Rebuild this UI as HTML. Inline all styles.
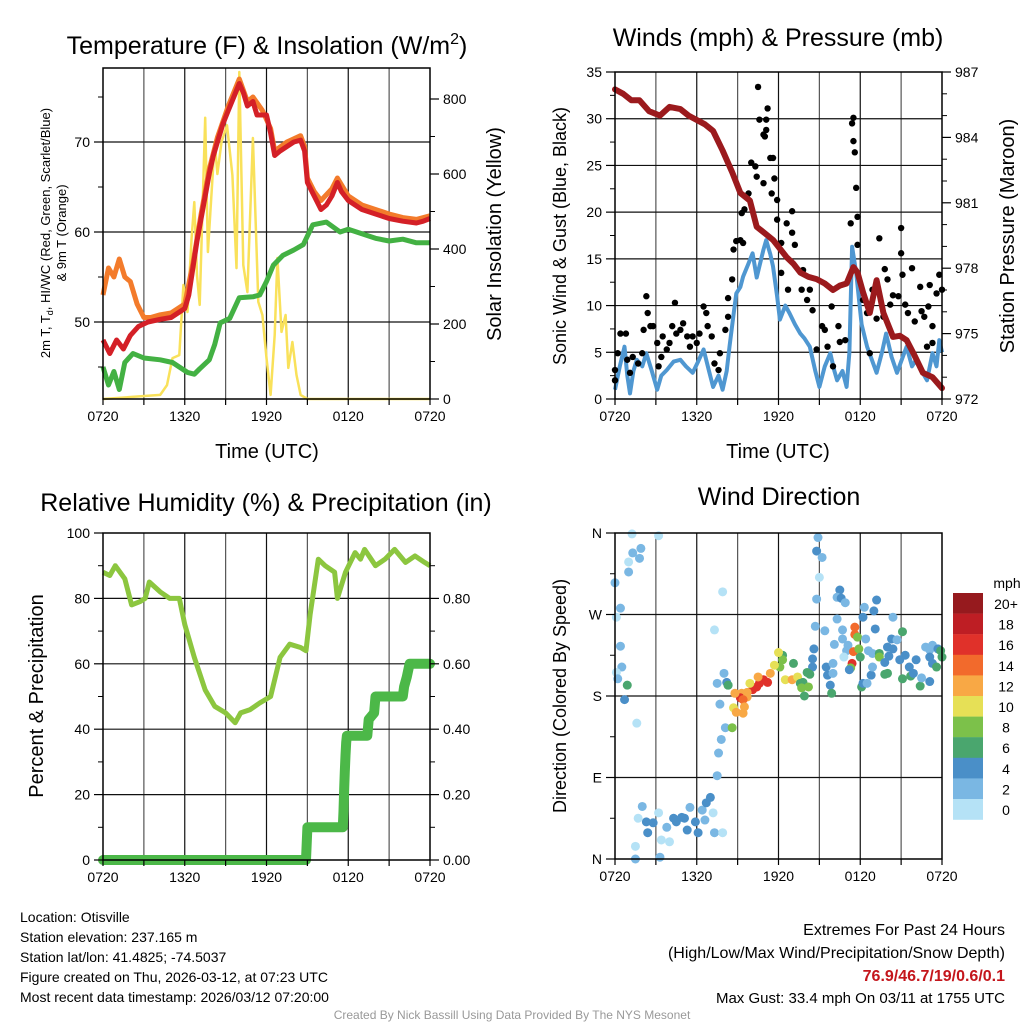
<!DOCTYPE html>
<html><head><meta charset="utf-8">
<style>
html,body{margin:0;padding:0;background:#fff;}
svg{display:block;font-family:"Liberation Sans",Arial,sans-serif;}
</style></head>
<body>
<svg id="chart" width="1024" height="1024" viewBox="0 0 1024 1024" xmlns="http://www.w3.org/2000/svg">
<rect width="1024" height="1024" fill="#fff"/>
<g id="grid"></g>
<g id="series"></g>
<g id="axes"></g>

<!-- titles -->
<text x="267" y="54" font-size="25" text-anchor="middle">Temperature (F) &amp; Insolation (W/m<tspan font-size="16" dy="-10">2</tspan><tspan dy="10">)</tspan></text>
<text x="778" y="46" font-size="25" text-anchor="middle">Winds (mph) &amp; Pressure (mb)</text>
<text x="266" y="511" font-size="25" text-anchor="middle">Relative Humidity (%) &amp; Precipitation (in)</text>
<text x="779" y="505" font-size="25" text-anchor="middle">Wind Direction</text>

<!-- axis titles -->
<text transform="translate(50,233) rotate(-90)" font-size="13" text-anchor="middle">2m T, T<tspan font-size="9" dy="3">d</tspan><tspan dy="-3">, HI/WC (Red, Green, Scarlet/Blue)</tspan></text>
<text transform="translate(66,233) rotate(-90)" font-size="13" text-anchor="middle">&amp; 9m T (Orange)</text>
<text transform="translate(501,234) rotate(-90)" font-size="20" text-anchor="middle">Solar Insolation (Yellow)</text>
<text x="267" y="458" font-size="20" text-anchor="middle">Time (UTC)</text>
<text transform="translate(566,236) rotate(-90)" font-size="18" text-anchor="middle">Sonic Wind &amp; Gust (Blue, Black)</text>
<text transform="translate(1014,236) rotate(-90)" font-size="20" text-anchor="middle">Station Pressure (Maroon)</text>
<text x="778" y="458" font-size="20" text-anchor="middle">Time (UTC)</text>
<text transform="translate(43,696) rotate(-90)" font-size="20" text-anchor="middle">Percent &amp; Precipitation</text>
<text transform="translate(566,696) rotate(-90)" font-size="18" text-anchor="middle">Direction (Colored By Speed)</text>

<!-- colorbar -->
<g id="colorbar"></g>
<text x="1007" y="588" font-size="14" text-anchor="middle">mph</text>

<!-- footer -->
<g font-size="14">
<text x="20" y="922">Location: Otisville</text>
<text x="20" y="942">Station elevation: 237.165 m</text>
<text x="20" y="962">Station lat/lon: 41.4825; -74.5037</text>
<text x="20" y="982">Figure created on Thu, 2026-03-12, at 07:23 UTC</text>
<text x="20" y="1002">Most recent data timestamp: 2026/03/12 07:20:00</text>
</g>
<g font-size="16" text-anchor="end">
<text x="1005" y="935">Extremes For Past 24 Hours</text>
<text x="1005" y="958">(High/Low/Max Wind/Precipitation/Snow Depth)</text>
<text x="1005" y="981" fill="#c4161c" font-weight="bold">76.9/46.7/19/0.6/0.1</text>
<text x="1005" y="1003" font-size="15">Max Gust: 33.4 mph On 03/11 at 1755 UTC</text>
</g>
<text x="512" y="1019" font-size="12" fill="#999" text-anchor="middle">Created By Nick Bassill Using Data Provided By The NYS Mesonet</text>
</svg>

<script>
// ---------- DATA ----------
const timeTickLabels = ["0720","1320","1920","0120","0720"];
// Temperature panel
const tempHours = [0,0.5,1,1.5,2,2.6,3.3,4.2,5,5.5,6,6.3,6.6,6.9,7.2,7.5,7.8,8.1,8.4,8.8,9.2,9.6,10,10.3,10.6,11,11.3,11.7,12,12.3,12.6,13,13.5,14,14.5,14.8,15,15.5,16,16.4,16.8,17.2,17.5,18,19,20,21,22,23,23.5,24];
const tempVals  = [48,46.5,48,47,48.5,49.5,50,50.3,50.5,51,51.5,53,56,59,61.5,64,66.5,68.5,70,72,73.5,75,76.5,75.5,74,74.5,73,73,73,71,68.5,69,69.5,70,70.2,69,65.5,64,62.5,63,64,65.5,64.5,63.5,62.5,62,61.5,61.2,61,61.2,61.5];
const nineHours = [0,0.4,0.8,1.2,1.6,2,2.5,3,3.5,4.2,5,6,6.6,7.2,7.8,8.4,9.2,10,10.6,11,11.7,12.3,12.6,13.5,14.5,14.8,15,15.5,16,16.8,17.2,18,19,20,21,22,23,24];
const nineVals  = [53,56,55,57,55,54.5,52,50.5,50.5,50.8,51,52,56.5,62,67,70.5,74,77,74.5,75,73.5,71.5,69,70,70.7,69.5,66,64.5,63.5,64.8,66,64,63,62.5,62,61.6,61.4,61.8];
const dewHours = [0,0.4,0.8,1.2,1.6,2.2,3,4.2,5.1,5.6,6.2,6.7,7.1,7.8,8.2,8.6,9.3,10,11,11.5,12,12.5,13.2,14,14.7,15.4,16.4,17.4,18,19,20,21,22,23,24];
const dewVals  = [45,43,44.5,42.5,45.5,46.5,46,45.8,45.5,45,44.4,44.2,44.8,45.8,47.5,49.9,50.4,52.7,52.8,53,54.5,56.3,57.4,58,58.6,60.8,61.1,60,60.3,59.8,59.3,59,59.2,58.8,58.8];
const solarHours = [0,4.2,4.7,5.1,5.6,5.9,6.2,6.5,6.7,6.9,7.1,7.5,7.7,8.2,8.4,8.7,9.1,9.5,9.8,10,10.3,10.6,11,11.4,11.7,12,12.3,12.6,12.8,13.1,13.4,13.6,13.9,14.2,14.5,15,24];
const solarVals  = [0,11,37,109,117,304,232,429,525,330,251,750,392,685,600,685,730,597,349,872,357,285,696,259,224,109,11,171,376,179,224,83,152,64,11,0,0];
// Winds panel
const windHours = [0,0.35,0.7,0.9,1.1,1.35,1.6,2.0,2.3,2.7,3.1,3.4,3.8,4.3,4.8,5.2,5.7,6.1,6.5,6.9,7.2,7.6,7.9,8.2,8.4,8.7,8.9,9.2,9.4,9.8,10.1,10.4,10.6,10.9,11.1,11.4,11.6,11.9,12.1,12.5,12.8,13.2,13.6,13.9,14.3,14.7,15.0,15.4,15.8,16.1,16.3,16.7,17.0,17.2,17.4,17.7,18.1,18.5,18.9,19.2,19.6,19.9,20.3,20.7,21.0,21.4,21.8,22.1,22.5,22.9,23.3,23.6,23.8,24];
const windVals  = [1.0,3.5,5.6,2.5,0.6,3,4.2,3.5,4.9,3,1.0,2.5,3.1,4,4.2,3.5,2.8,4,5.3,3,1.3,2.5,1.0,3,5.6,9,11.3,12,13.1,14.5,15.6,13,14.2,16,17,15.5,14.2,11,8.5,10,9.2,8,7.0,6.5,5.6,3,1.3,3.5,4.9,3,2.0,3,1.3,5,16.3,13.5,8,5.6,4,2.8,5,7.0,4.5,2.8,4,5.6,3.5,4.2,3,2.0,4.9,3.5,6.3,5];
const gustHours = [0.0,0.0,0.2,0.4,0.8,0.9,1.1,1.3,1.7,2.0,2.3,2.4,2.1,2.6,2.8,3.1,3.2,3.4,3.5,3.8,4.0,4.2,4.4,4.5,4.8,5.0,5.3,5.5,5.7,6.0,6.2,6.5,6.7,6.8,7.1,7.3,7.6,7.7,8.1,8.3,8.3,8.6,8.7,8.9,9.2,9.4,9.3,9.5,9.8,10.0,10.3,10.4,10.5,10.6,10.9,11.0,11.1,11.2,11.1,11.4,11.6,11.7,11.5,10.9,11.9,11.9,12.2,12.2,12.7,12.6,13.0,13.0,13.2,13.7,13.8,14.1,14.3,14.5,14.8,15.2,15.4,15.6,15.9,16.0,16.4,16.5,16.9,17.3,17.4,17.5,17.5,17.6,17.7,17.8,17.8,18.2,18.5,18.7,18.9,19.2,19.4,19.7,19.8,20.0,20.2,20.4,20.8,21.0,21.0,21.1,21.3,21.5,21.8,22.0,22.4,22.5,22.7,23.1,23.0,23.3,23.6,23.8,24.0,23.3,22.9];
const gustVals  = [3.1,2.0,4.9,7.0,7.0,4.2,2.8,4.5,3.8,4.9,11.0,9.2,7.4,7.8,7.8,6.0,3.5,4.5,6.7,5.3,6.0,7.8,10.3,7.0,7.4,8.1,6.7,5.6,6.7,6.0,7.0,9.9,9.2,7.8,6.7,3.8,3.1,4.9,7.4,8.8,10.8,12.8,16.0,16.9,17.0,16.7,19.9,20.3,22.0,25.3,24.9,23.8,33.4,29.9,28.3,28.1,29.9,31.1,28.8,25.8,25.8,23.6,22.0,23.1,21.3,19.2,16.7,13.5,11.7,18.8,20.1,17.8,16.5,11.7,13.8,10.6,11.7,9.5,5.3,7.8,7.4,5.6,9.9,3.5,7.8,6.1,6.3,18.8,29.5,30.1,27.6,26.4,22.6,19.5,16.5,10.6,9.2,4.9,11.7,8.6,17.2,8.8,13.9,12.8,10.1,11.1,11.0,18.3,15.6,13.3,10.1,9.2,14.0,8.3,12.0,9.4,8.8,12.2,9.9,7.8,11.3,13.3,11.7,6.0,5.6];
const presHours = [0,0.6,1.2,1.8,2.5,3.3,4.0,4.8,5.4,6.0,6.6,7.2,7.9,8.6,9.2,9.9,10.4,11.0,11.6,12.1,12.6,13.1,13.6,14.2,14.8,15.4,16.0,16.5,17.0,17.5,17.8,18.2,18.7,19.2,19.7,20.4,20.9,21.4,21.9,22.6,23.3,24];
const presVals  = [986.2,986.0,985.7,985.7,985.2,985.0,985.4,985.3,985.0,984.8,984.6,984.3,983.4,982.4,981.45,981.1,979.9,979.6,979.3,978.9,978.5,978.2,977.8,977.6,977.5,977.3,977.0,977.2,977.3,978.05,977.8,976.9,975.95,977.45,975.95,974.85,974.9,974.7,974.1,973.2,973.0,972.5];
// Humidity panel
const rhHours = [0,0.5,0.9,1.6,2.1,2.7,3.1,3.4,4.2,4.9,5.6,6.0,6.7,7.5,8.2,9.0,9.7,10.1,10.8,11.5,12.3,13.0,13.7,14.5,14.9,15.2,15.8,16.3,17.0,17.2,17.8,18.5,18.9,19.2,20.0,20.7,21.4,22.2,22.9,23.6,24];
const rhVals  = [88,87,90,86,78,79,80,85,82,80,80,72,62,52,47,45,42,45,46,48,50,62,66,65,64,75,92,90,88,80,88,94,92,95,90,92,95,91,93,91,90];
const precipHours = [0,14.9,15.0,17.6,17.65,17.7,17.75,17.8,17.85,17.9,18.0,19.4,19.5,19.9,20.0,22.0,22.1,22.3,22.5,24];
const precipVals  = [0,0,0.1,0.1,0.15,0.22,0.27,0.32,0.36,0.38,0.38,0.38,0.43,0.45,0.5,0.5,0.53,0.56,0.6,0.6];
// Wind direction panel
const dirHours = [1.25,3.2,1.9,1.3,1.8,1.0,1.0,0.0,0.4,0.1,7.9,7.3,0.4,0.5,0.1,0.2,0.9,0.7,1.6,8.0,7.5,8.3,7.7,8.1,8.6,7.8,7.6,7.5,2.0,1.7,2.3,2.8,2.4,3.8,3.4,4.0,3.3,1.5,1.5,3.2,4.5,4.9,5.3,5.5,5.9,6.1,6.4,6.7,7.0,6.6,7.2,7.3,7.9,4.3,5.1,
 14.9,14.8,15.2,15.0,14.8,16.5,16.3,16.6,16.9,18.3,19.2,19.0,18.2,16.3,20.4,14.7,15.4,16.7,17.6,17.6,17.8,18.4,19.1,21.1,16.7,16.1,17.1,14.6,17.0,17.5,17.9,18.6,18.9,20.3,20.7,20.0,20.4,16.8,14.5,18.0,19.4,19.4,19.8,20.1,21.3,22.1,23.1,22.8,23.3,23.7,23.9,24.0,23.1,23.3,23.6,17.4,17.3,17.2,15.5,16.0,15.6,16.0,14.5,14.1,14.3,13.1,12.3,12.3,12.0,12.1,11.7,11.4,11.2,10.9,10.6,10.4,10.1,10.5,9.9,9.7,9.3,9.2,9.7,8.8,9.4,9.5,9.4,8.7,8.9,12.5,13.0,13.4,13.6,13.8,13.7,14.2,13.9,15.8,15.9,18.1,18.2,18.5,18.8,19.8,20.0,21.1,21.7,22.4,22.5,23.1,21.6,21.9,20.9,18.9,8.2,8.3];
const dirVals = [359,357,343,338,332,328,317,305,277,267,295,253,235,212,206,199,192,176,150,205,194,192,171,145,145,132,117,92,58,45,41,40,29,35,21,19,2,0,14,51,41,46,32,57,41,29,54,62,68,43,51,29,29,45,45,
 355,340,333,311,287,297,289,288,283,278,286,274,267,265,267,257,252,253,256,248,245,243,254,251,243,237,236,232,230,229,232,230,227,243,242,234,232,223,221,223,227,223,217,224,225,220,231,234,236,232,230,223,223,216,212,216,211,209,212,216,203,205,212,206,204,216,225,220,228,212,214,205,195,198,194,190,187,201,194,184,183,178,179,183,176,168,161,167,162,198,198,201,194,195,189,190,180,192,183,190,194,194,203,204,205,199,202,191,200,196,212,205,220,212,195,192];
const dirSpeeds = [1,1,3,3,3,1,3,3,3,1,1,1,3,3,1,3,7,5,1,3,3,7,3,3,9,3,3,3,3,1,5,5,5,3,1,1,3,3,1,1,5,5,5,3,5,5,3,5,5,3,1,3,1,5,5,
 3,5,3,1,3,5,3,5,3,3,5,5,5,3,3,3,3,3,14,15,8,3,5,7,3,3,3,5,3,15,8,3,3,5,3,5,5,1,5,7,7,8,5,5,5,5,3,3,3,5,7,7,5,5,7,16,8,5,5,3,5,3,5,7,7,7,7,8,10,8,10,12,17,17,16,16,17,13,10,13,13,17,13,13,14,12,12,10,12,10,13,10,7,7,8,8,7,5,7,7,5,3,5,7,7,7,7,7,3,5,5,5,5,3,5,7];
const colorbarLabels = ["20+","18","16","14","12","10","8","6","4","2","0"];
const colorbarColors = ["#961a1e","#be1e24","#e0312a","#f26a2c","#f8a845","#e6e056","#7cc14a","#4aa66e","#4a8fc8","#7ab7e3","#b5e2f6"];

// ---------- SCALES ----------
const NS = "http://www.w3.org/2000/svg";
const xL = h => 103 + h * 327 / 24;
const xR = h => 615 + h * 327 / 24;
const yT = v => 322 - (v - 50) * 9;
const yS = s => 399 - s * 0.375;
const yW = w => 399 - w * 327 / 35;
const yP = p => 399 - (p - 972) * 327 / 15;
const yRH = v => 860 - v * 3.27;
const yPr = p => 860 - p * 327;
const yD = d => 859 - d * 326 / 360;
function speedColor(s){const i=Math.min(10,Math.floor(s/2));return colorbarColors[10-i];}

function mk(tag, attrs, parent){const e=document.createElementNS(NS,tag);for(const k in attrs)e.setAttribute(k,attrs[k]);(parent||document.getElementById('series')).appendChild(e);return e;}
function pathD(hs, vs, fx, fy){return hs.map((h,i)=>(i?'L':'M')+fx(h).toFixed(1)+','+fy(vs[i]).toFixed(1)).join(' ');}

const grid = document.getElementById('grid');
const axes = document.getElementById('axes');

// ---------- FRAMES / GRID / TICKS ----------
function panel(name, x0, y0, x1, y1, hGrid, yfn){
  for (let k=1;k<8;k++){
    const x = x0 + k*(x1-x0)/8;
    const g = mk('line',{x1:x,x2:x,y1:y0,y2:y1,stroke:(k%2?'#555':'#111'),'stroke-width':1.2},grid);
    
    
  }
  hGrid.forEach(v=>{
    const y=yfn(v);
    const g = mk('line',{x1:x0,x2:x1,y1:y,y2:y,stroke:'#111','stroke-width':1.2},grid);
    
    
  });
  const f = mk('rect',{x:x0,y:y0,width:x1-x0,height:y1-y0,fill:'none',stroke:'#000','stroke-width':1.5},axes);
  
  
  for (let k=0;k<=8;k++){
    const x = x0 + k*(x1-x0)/8;
    const t = mk('line',{x1:x,x2:x,y1:y1,y2:y1+6,stroke:'#000','stroke-width':1.2},axes);
    
    
    if (k%2===0){
      const l = mk('text',{x:x,y:y1+22,'font-size':14,'text-anchor':'middle'},axes);
      l.textContent = timeTickLabels[k/2];
      
      
    }
  }
}
function yTicks(name, x, vals, fy, labels, side, len, minorVals){
  vals.forEach((v,i)=>{
    const y=fy(v);
    const t = mk('line',{x1:x,x2:x+(side<0?-len:len),y1:y,y2:y,stroke:'#000','stroke-width':1.2},axes);
    
    
    if (labels){
      const l = mk('text',{x:x+(side<0?-len-4:len+4),y:y+5,'font-size':14,'text-anchor':side<0?'end':'start'},axes);
      l.textContent = labels[i];
      
      
    }
  });
  (minorVals||[]).forEach(v=>{
    const y=fy(v);
    const t = mk('line',{x1:x,x2:x+(side<0?-5:5),y1:y,y2:y,stroke:'#000','stroke-width':1},axes);
    
    
  });
}

panel('temperature-panel',103,68,430,399,[50,60,70],yT);
yTicks('temperature-y',103,[50,60,70],yT,["50","60","70"],-1,9,[45,55,65,75]);
yTicks('solar-y',430,[0,200,400,600,800],yS,["0","200","400","600","800"],1,9,[100,300,500,700]);
panel('winds-panel',615,72,942,399,[5,10,15,20,25,30],yW);
yTicks('wind-y',615,[0,5,10,15,20,25,30,35],yW,["0","5","10","15","20","25","30","35"],-1,9,[2.5,7.5,12.5,17.5,22.5,27.5,32.5]);
yTicks('pressure-y',942,[972,975,978,981,984,987],yP,["972","975","978","981","984","987"],1,9,[973,974,976,977,979,980,982,983,985,986]);
panel('humidity-panel',103,533,430,860,[20,40,60,80],yRH);
yTicks('humidity-y',103,[0,20,40,60,80,100],yRH,["0","20","40","60","80","100"],-1,9,[10,30,50,70,90]);
yTicks('precip-y',430,[0,0.2,0.4,0.6,0.8],yPr,["0.00","0.20","0.40","0.60","0.80"],1,9,[0.1,0.3,0.5,0.7,0.9]);
panel('direction-panel',615,533,942,859,[90,180,270],yD);
yTicks('direction-y',615,[0,90,180,270,360],yD,["N","E","S","W","N"],-1,9,[45,135,225,315]);

// ---------- SERIES ----------
let e;
e = mk('path',{d:pathD(solarHours,solarVals,xL,yS),fill:'none',stroke:'#f9e15a','stroke-width':2.5,'stroke-linejoin':'round'});


e = mk('path',{d:pathD(dewHours,dewVals,xL,yT),fill:'none',stroke:'#43b143','stroke-width':5,'stroke-linejoin':'round'});


e = mk('path',{d:pathD(nineHours,nineVals,xL,yT),fill:'none',stroke:'#f37b2b','stroke-width':5,'stroke-linejoin':'round'});


e = mk('path',{d:pathD(tempHours,tempVals,xL,yT),fill:'none',stroke:'#d42027','stroke-width':5,'stroke-linejoin':'round'});



e = mk('path',{d:pathD(windHours,windVals,xR,yW),fill:'none',stroke:'#4f97d1','stroke-width':4,'stroke-linejoin':'round'});


gustHours.forEach((h,i)=>{
  const c = mk('circle',{cx:xR(h),cy:yW(gustVals[i]),r:3.2,fill:'#000'});
  
  
});
e = mk('path',{d:pathD(presHours,presVals,xR,yP),fill:'none',stroke:'#9b1a1d','stroke-width':6,'stroke-linejoin':'round','stroke-linecap':'round'});



e = mk('path',{d:pathD(rhHours,rhVals,xL,yRH),fill:'none',stroke:'#8cc63f','stroke-width':5,'stroke-linejoin':'round'});


e = mk('path',{d:pathD(precipHours,precipVals,xL,yPr),fill:'none',stroke:'#4cb848','stroke-width':10,'stroke-linejoin':'round','stroke-linecap':'round'});



dirHours.forEach((h,i)=>{
  const c = mk('circle',{cx:xR(h),cy:yD(dirVals[i]),r:4.5,fill:speedColor(dirSpeeds[i])});
  
  
});

// ---------- COLORBAR ----------
const cb = document.getElementById('colorbar');
colorbarColors.forEach((col,i)=>{
  const r = mk('rect',{x:953,y:593+i*20.6,width:30,height:20.8,fill:col},cb);
  
  
  const t = mk('text',{x:1006,y:593+i*20.6+16,'font-size':14,'text-anchor':'middle'},cb);
  t.textContent = colorbarLabels[i];
  
  
});
</script>
</body></html>
